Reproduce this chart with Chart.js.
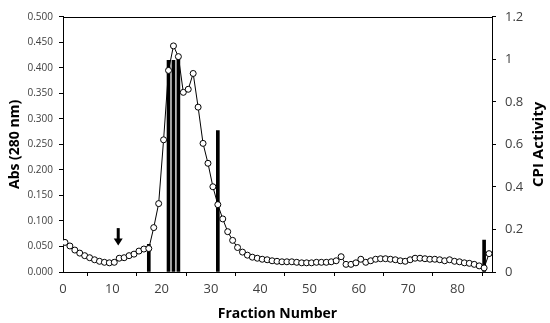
<!DOCTYPE html>
<html>
<head>
<meta charset="utf-8">
<script src="https://cdn.jsdelivr.net/npm/chart.js@4"></script>
<style>
html, body { margin: 0; padding: 0; background: #fff; }
</style>
</head>
<body>
<canvas id="fracChart" width="550" height="323"></canvas>
<script>
// Abs (280 nm) for fractions 0..86
const absValues = [
    0.058, 0.051, 0.043, 0.037, 0.032, 0.028, 0.024, 0.021, 0.019, 0.018,
    0.019, 0.027, 0.028, 0.032, 0.035, 0.041, 0.045, 0.046, 0.087, 0.134,
    0.259, 0.395, 0.443, 0.422, 0.352, 0.358, 0.389, 0.323, 0.252, 0.213,
    0.167, 0.132, 0.104, 0.079, 0.062, 0.048, 0.039, 0.033, 0.029, 0.027,
    0.025, 0.024, 0.022, 0.021, 0.020, 0.020, 0.020, 0.019, 0.018, 0.018,
    0.018, 0.019, 0.019, 0.019, 0.020, 0.022, 0.030, 0.015, 0.015, 0.018,
    0.025, 0.019, 0.022, 0.025, 0.026, 0.026, 0.025, 0.024, 0.022, 0.021,
    0.024, 0.027, 0.027, 0.026, 0.025, 0.025, 0.024, 0.022, 0.024, 0.021,
    0.020, 0.018, 0.017, 0.015, 0.012, 0.008, 0.036
];
const fractionOffset = 0.4; // markers sit slightly right of the whole-number ticks

// CPI activity (right axis), only measured on a few fractions
const cpiFractions = [17, 21, 22, 23, 31, 85];
const cpiValues = [0.13, 0.995, 0.995, 1.015, 0.665, 0.15];

// tick labels
const xTickValues = [0, 10, 20, 30, 40, 50, 60, 70, 80];
const absTickValues = [0, 0.05, 0.1, 0.15, 0.2, 0.25, 0.3, 0.35, 0.4, 0.45, 0.5];
const cpiTickValues = [0, 0.2, 0.4, 0.6, 0.8, 1, 1.2];

// arrow marking the sample load
const arrowFraction = 11.2;
const arrowFrom = 0.086;
const arrowTo = 0.052;

const FONT = "'Open Sans', sans-serif";

const absPoints = absValues.map((v, i) => ({ x: i + fractionOffset, y: v }));
const cpiPoints = cpiValues.map((v, i) => ({ x: cpiFractions[i] + fractionOffset, y: v }));

const extras = {
    id: 'extras',
    afterDatasetsDraw(chart) {
        const ctx = chart.ctx;
        const area = chart.chartArea;
        const xs = chart.scales.x, ys = chart.scales.y;
        ctx.save();
        // top frame line
        ctx.strokeStyle = '#000';
        ctx.lineWidth = 1;
        ctx.beginPath();
        ctx.moveTo(area.left, Math.round(area.top) + 0.5);
        ctx.lineTo(area.right, Math.round(area.top) + 0.5);
        ctx.stroke();

        // arrow
        const ax = xs.getPixelForValue(arrowFraction);
        const y1 = ys.getPixelForValue(arrowFrom);
        const y2 = ys.getPixelForValue(arrowTo);
        ctx.fillStyle = '#000';
        ctx.fillRect(ax - 1.5, y1, 3, (y2 - y1) - 6);
        ctx.beginPath();
        ctx.moveTo(ax - 4.5, y2 - 7);
        ctx.lineTo(ax + 4.5, y2 - 7);
        ctx.lineTo(ax, y2);
        ctx.closePath();
        ctx.fill();

        // right axis title, reading bottom to top
        ctx.translate(539, (area.top + area.bottom) / 2);
        ctx.rotate(-Math.PI / 2);
        ctx.font = 'bold 15px ' + FONT;
        ctx.textAlign = 'center';
        ctx.textBaseline = 'middle';
        ctx.fillText('CPI Activity', 0, 0);
        ctx.restore();
    }
};

new Chart(document.getElementById('fracChart'), {
    type: 'scatter',
    data: {
        datasets: [{
            type: 'line',
            label: 'Abs (280 nm)',
            data: absPoints,
            yAxisID: 'y',
            borderColor: '#000',
            borderWidth: 1,
            pointRadius: 3,
            pointBorderWidth: 1,
            pointBackgroundColor: '#fff',
            pointBorderColor: '#000',
            tension: 0
        }, {
            type: 'bar',
            label: 'CPI Activity',
            data: cpiPoints,
            yAxisID: 'y2',
            backgroundColor: '#000',
            barThickness: 3,
            grouped: false
        }]
    },
    options: {
        responsive: false,
        animation: false,
        layout: { padding: { top: 10, left: 0, right: 0, bottom: 0 } },
        plugins: { legend: { display: false }, tooltip: { enabled: false } },
        scales: {
            x: {
                type: 'linear',
                min: 0,
                max: 87,
                offset: false,
                afterBuildTicks: s => { s.ticks = xTickValues.map(v => ({ value: v })); },
                afterFit: s => { s.height = 51; },
                grid: { drawOnChartArea: false, drawTicks: true, tickLength: 4, color: '#000' },
                border: { display: true, color: '#000', width: 1 },
                ticks: { color: '#404040', font: { family: FONT, size: 13 }, padding: 5, maxRotation: 0 },
                title: { display: true, text: 'Fraction Number', color: '#000',
                         font: { family: FONT, size: 14, weight: 'bold' }, padding: { top: 0, bottom: 1 } }
            },
            y: {
                position: 'left',
                min: 0,
                max: 0.5,
                afterBuildTicks: s => { s.ticks = absTickValues.map(v => ({ value: v })); },
                afterFit: s => { s.width = 63; },
                grid: { drawOnChartArea: false, drawTicks: true, tickLength: 4, color: '#000' },
                border: { display: true, color: '#000', width: 1 },
                ticks: { color: '#404040', font: { family: FONT, size: 10 }, padding: 6,
                         callback: v => v.toFixed(3) },
                title: { display: true, text: 'Abs (280 nm)', color: '#000',
                         font: { family: FONT, size: 14, weight: 'bold' }, padding: { top: 7, bottom: 0 } }
            },
            y2: {
                position: 'right',
                min: 0,
                max: 1.2,
                afterBuildTicks: s => { s.ticks = cpiTickValues.map(v => ({ value: v })); },
                afterFit: s => { s.width = 58; },
                grid: { drawOnChartArea: false, drawTicks: true, tickLength: 4, color: '#000' },
                border: { display: true, color: '#000', width: 1 },
                ticks: { color: '#404040', font: { family: FONT, size: 13 }, padding: 9,
                         callback: v => String(v) }
            }
        }
    },
    plugins: [extras]
});
</script>
</body>
</html>
